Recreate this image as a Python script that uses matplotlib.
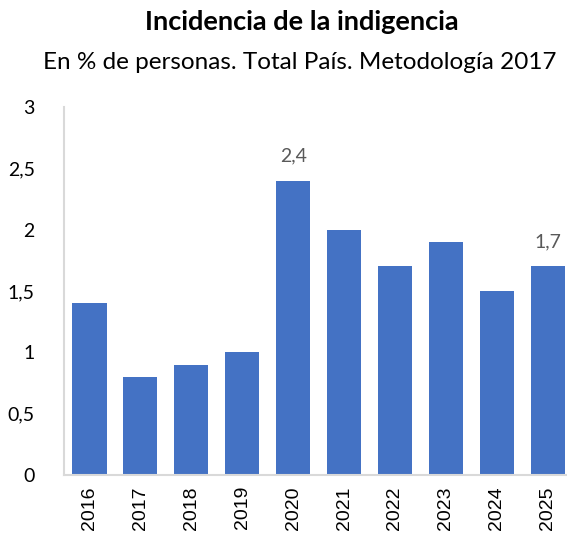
import numpy as np
import matplotlib.pyplot as plt

# datos
years = ['2016', '2017', '2018', '2019', '2020', '2021', '2022', '2023', '2024', '2025']
indigencia = [1.4, 0.8, 0.9, 1.0, 2.4, 2.0, 1.7, 1.9, 1.5, 1.7]
labeled = ['2020', '2025']

fig = plt.figure(figsize=(5.67, 5.36), dpi=100)
ax = fig.add_axes([64 / 567, 1 - 475 / 536, 1 - 64 / 567, 368 / 536])

x = np.arange(len(years))
ax.bar(x, indigencia, width=0.67, color='#4472C4', zorder=2)

for i, (yr, v) in enumerate(zip(years, indigencia)):
    if yr in labeled:
        ax.text(i, v + 0.2, f'{v:.1f}'.replace('.', ','), ha='center', va='center',
                fontsize=14, color='#595959', family='Lato')

ax.set_xlim(-0.5, 9.38)
ax.set_ylim(0, 3)
ax.set_yticks(np.arange(0, 3.01, 0.5))
ax.set_yticklabels([f'{t:g}'.replace('.', ',') for t in np.arange(0, 3.01, 0.5)],
                   family='Lato', fontsize=14)
ax.set_xticks(x)
ax.set_xticklabels(years, rotation=90, family='Liberation Sans', fontsize=14)
ax.tick_params(length=0, pad=8)
ax.tick_params(axis='y', pad=21)

for s in ['top', 'right']:
    ax.spines[s].set_visible(False)
for s in ['left', 'bottom']:
    ax.spines[s].set_color('#D9D9D9')
    ax.spines[s].set_linewidth(1.5)

fig.text(302 / 567, 1 - 22 / 536, 'Incidencia de la indigencia', ha='center', va='center',
         fontsize=19.5, fontweight='bold', family='Lato')
fig.text(300 / 567, 1 - 62 / 536, 'En % de personas. Total País. Metodología 2017',
         ha='center', va='center', fontsize=17.5, family='Lato')

fig.savefig('out.png', dpi=100)
